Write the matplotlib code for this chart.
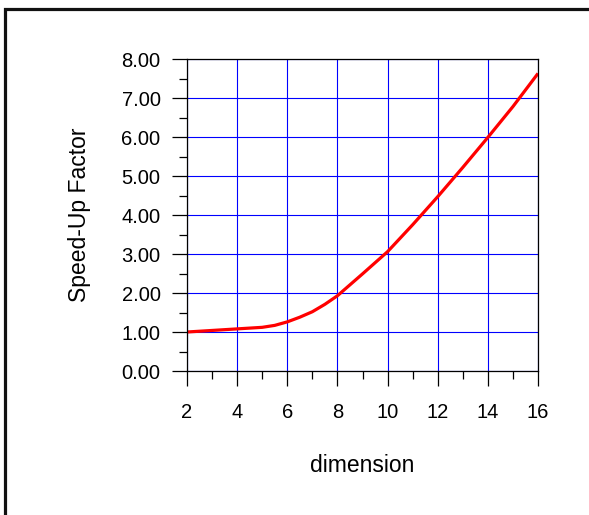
import matplotlib
matplotlib.use('Agg')
import matplotlib.pyplot as plt
from matplotlib.patches import Rectangle
from matplotlib.ticker import MultipleLocator, FormatStrFormatter

plt.rcParams['font.family'] = ['Liberation Sans', 'DejaVu Sans']

# valores
dimension = [2, 3, 4, 5, 5.5, 6, 6.5, 7, 7.5, 8, 9, 10, 11, 12, 13, 14, 15, 16]
speedup = [1.00, 1.04, 1.08, 1.12, 1.17, 1.26, 1.38, 1.52, 1.71, 1.93, 2.49, 3.06, 3.75, 4.47, 5.22, 5.99, 6.78, 7.63]

fig = plt.figure(figsize=(5.89, 5.15), dpi=100)
ax = fig.add_axes([0.3175, 0.2796, 0.5959, 0.6058])

ax.plot(dimension, speedup, color='#ff0000', linewidth=2.3,
        solid_capstyle='butt', solid_joinstyle='round')

ax.set_xlim(2, 16)
ax.set_ylim(0, 8)
ax.xaxis.set_major_locator(MultipleLocator(2))
ax.xaxis.set_minor_locator(MultipleLocator(1))
ax.yaxis.set_major_locator(MultipleLocator(1))
ax.yaxis.set_minor_locator(MultipleLocator(0.5))
ax.yaxis.set_major_formatter(FormatStrFormatter('%.2f'))

ax.grid(True, which='major', color='#0000ff', linewidth=0.8)
ax.set_axisbelow(True)
for s in ax.spines.values():
    s.set_linewidth(0.9)
    s.set_color('black')

ax.tick_params(which='major', direction='out', length=11, width=0.9, labelsize=14.5, color='black')
ax.tick_params(which='minor', direction='out', length=5.5, width=0.9, color='black')
ax.tick_params(axis='y', which='major', pad=8)
ax.tick_params(axis='x', which='major', pad=12)

ax.set_xlabel('dimension', fontsize=16.5, labelpad=23)
ax.set_ylabel('Speed-Up Factor', fontsize=16.5, labelpad=22)

# marco exterior
fig.patches.append(Rectangle((5 / 589, -0.1), 1.2, 1.1 - 9.5 / 515, transform=fig.transFigure,
                             fill=False, edgecolor='#111111', linewidth=2.3))

plt.savefig('out.png', dpi=100)
